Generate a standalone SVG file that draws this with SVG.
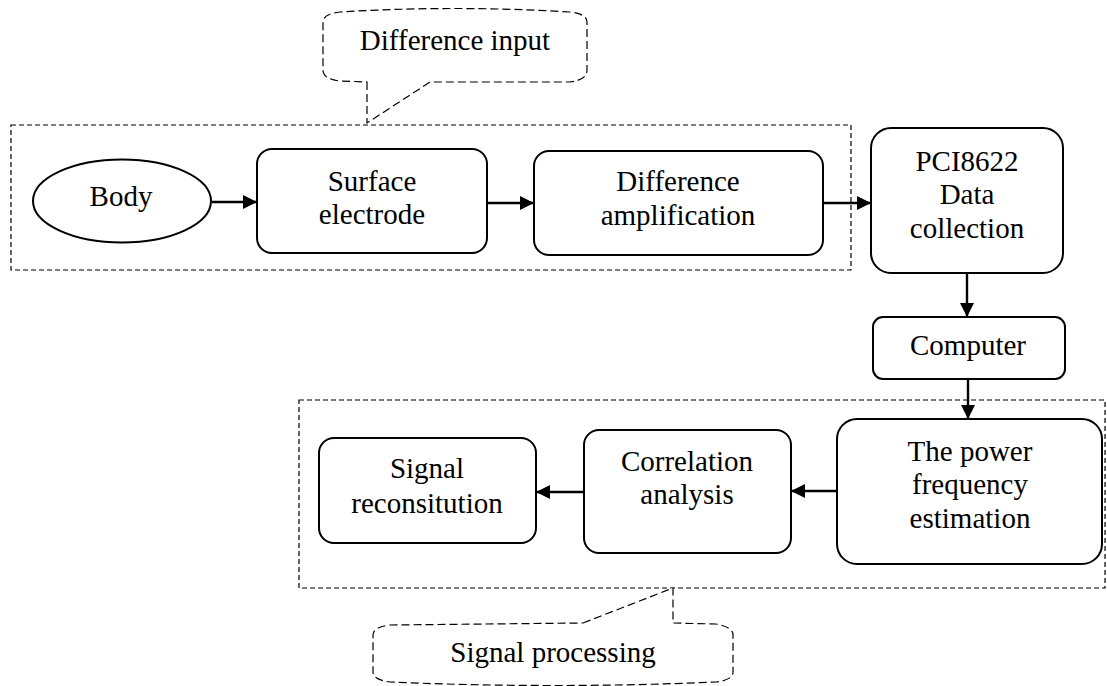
<svg xmlns="http://www.w3.org/2000/svg" width="1107" height="686" viewBox="0 0 1107 686">
<style>
.box{fill:#fff;stroke:#000;stroke-width:2}
.grp{fill:none;stroke:#000;stroke-width:1.2;stroke-dasharray:5 3}
.bub{fill:#fff;stroke:#000;stroke-width:1.2;stroke-dasharray:8 4}
.t{font-family:"Liberation Serif","Times New Roman",serif;font-size:29px;fill:#000;text-anchor:middle}
.c{stroke:#000;stroke-width:2.4;fill:none;marker-end:url(#ah)}
</style>
<defs>
<marker id="ah" markerUnits="userSpaceOnUse" markerWidth="15" markerHeight="14" refX="14" refY="7" orient="auto">
<path d="M0,0 L14,7 L0,14 Z" fill="#000"/>
</marker>
</defs>
<rect width="1107" height="686" fill="#fff"/>
<g id="group-input">
<rect class="grp" x="11" y="125" width="840" height="145"/>
</g>
<g id="group-processing">
<rect class="grp" x="299" y="400" width="806" height="188"/>
</g>
<g id="callout-input">
<path class="bub" d="M367 82 L367 123 L430 82 L570 82 Q587 80 587 70 L587 22 Q587 14 570 12 Q455 5 340 12 Q323 14 323 22 L323 70 Q323 79 340 81 Z"/>
<text class="t" x="455" y="50">Difference input</text>
</g>
<g id="callout-processing">
<path class="bub" d="M583 623 L673 588 L673 623 L716 624 Q733 627 733 635 L733 672 Q733 680 716 682 Q553 689 390 682 Q373 680 373 672 L373 635 Q373 627 390 625 Z"/>
<text class="t" x="553" y="662">Signal processing</text>
</g>
<g id="body">
<ellipse class="box" cx="122" cy="201" rx="89" ry="41.5"/>
<text class="t" x="121" y="206">Body</text>
</g>
<g id="surface">
<rect class="box" x="257" y="149" width="230" height="104" rx="15"/>
<text class="t" x="372" y="191">Surface</text>
<text class="t" x="372" y="224">electrode</text>
</g>
<g id="diffamp">
<rect class="box" x="534" y="151" width="289" height="104" rx="15"/>
<text class="t" x="678" y="191">Difference</text>
<text class="t" x="678" y="225">amplification</text>
</g>
<g id="pci">
<rect class="box" x="871" y="128" width="192" height="145" rx="20"/>
<text class="t" x="967" y="171">PCI8622</text>
<text class="t" x="967" y="204">Data</text>
<text class="t" x="967" y="238">collection</text>
</g>
<g id="computer">
<rect class="box" x="873" y="317" width="192" height="62" rx="10"/>
<text class="t" x="968" y="355">Computer</text>
</g>
<g id="power">
<rect class="box" x="837" y="419" width="265" height="145" rx="20"/>
<text class="t" x="970" y="461">The power</text>
<text class="t" x="970" y="494">frequency</text>
<text class="t" x="970" y="528">estimation</text>
</g>
<g id="correlation">
<rect class="box" x="584" y="430" width="207" height="123" rx="15"/>
<text class="t" x="687" y="471">Correlation</text>
<text class="t" x="687" y="504">analysis</text>
</g>
<g id="signal">
<rect class="box" x="319" y="438" width="217" height="105" rx="15"/>
<text class="t" x="427" y="478">Signal</text>
<text class="t" x="427" y="513">reconsitution</text>
</g>
<g id="connectors">
<line class="c" x1="212" y1="202" x2="257" y2="202"/>
<line class="c" x1="487" y1="203" x2="534" y2="203"/>
<line class="c" x1="823" y1="203" x2="871" y2="203"/>
<line class="c" x1="967" y1="273" x2="967" y2="317"/>
<line class="c" x1="968" y1="379" x2="968" y2="419"/>
<line class="c" x1="837" y1="491" x2="791" y2="491"/>
<line class="c" x1="584" y1="492" x2="536" y2="492"/>
</g>
</svg>
